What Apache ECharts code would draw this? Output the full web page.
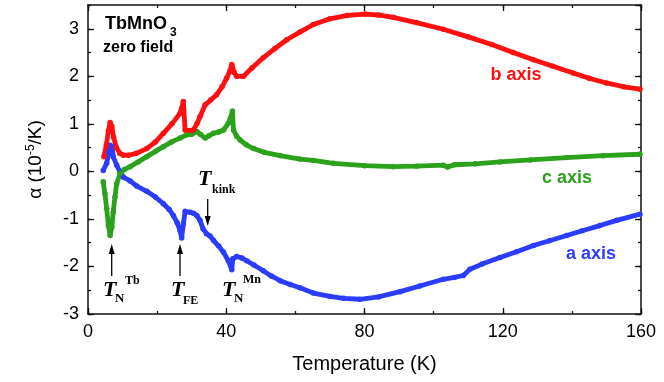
<!DOCTYPE html>
<html>
<head>
<meta charset="utf-8">
<script src="https://cdn.jsdelivr.net/npm/echarts@6/dist/echarts.min.js"></script>
<style>
  html, body { margin: 0; padding: 0; background: #fff; }
  #chart { width: 664px; height: 382px; }
</style>
</head>
<body>
<div id="chart"></div>
<script>
// a axis (blue)
var tempA = [4.4, 5.4, 6.0, 6.4, 7.0, 7.3, 8.3, 9.2, 10.2, 12.2, 14.1, 17, 19.5, 21.8, 23.5, 24.7, 25.8, 26.6, 27.1,
  27.6, 28.1, 29.5, 30.5, 31.5, 32.4, 33.3, 34.3, 35.3, 36.3, 37.8, 39.2, 40.6, 41.6, 41.9, 43, 44.5, 45.9, 48,
  50.7, 53, 55.6, 58.5, 61.3, 65.2, 70, 74, 78.7, 84, 90.3, 96, 102.8, 106, 108.6, 110.5, 114, 119.2, 124, 128.9,
  133.5, 138.5, 143, 148.1, 153, 159.7];
var alphaA = [0.02, 0.17, 0.40, 0.55, 0.52, 0.31, 0.13, 0.00, -0.12, -0.20, -0.31, -0.42, -0.54, -0.68, -0.80, -0.93, -1.08, -1.24, -1.40,
  -1.10, -0.84, -0.86, -0.88, -0.93, -1.03, -1.21, -1.31, -1.36, -1.45, -1.57, -1.70, -1.88, -2.07, -1.84, -1.79, -1.82, -1.88, -1.97,
  -2.09, -2.20, -2.30, -2.38, -2.45, -2.56, -2.63, -2.67, -2.69, -2.64, -2.53, -2.41, -2.27, -2.23, -2.19, -2.06, -1.95, -1.81, -1.69, -1.56,
  -1.46, -1.35, -1.25, -1.14, -1.03, -0.90];

// b axis (red)
var tempB = [4.6, 5.3, 5.9, 6.4, 6.9, 7.4, 8.2, 9.2, 10.2, 11.7, 14, 17, 19.5, 21.8, 24.3, 26.6, 27.6, 28.1, 29.5, 30.5,
  31.5, 32.4, 33.9, 35.5, 37.2, 38.8, 40.1, 41.0, 41.6, 42.3, 43, 45, 47.5, 50.7, 54, 57.5, 61.3, 65.2, 70, 75, 80.2,
  84, 88.3, 95, 102.8, 110, 116.8, 123, 128.9, 134.5, 140.4, 145, 150, 155, 159.7];
var alphaB = [0.31, 0.55, 0.85, 1.03, 0.95, 0.72, 0.50, 0.38, 0.34, 0.34, 0.38, 0.48, 0.62, 0.80, 1.00, 1.22, 1.47, 0.87, 0.86, 0.87,
  1.00, 1.15, 1.40, 1.50, 1.61, 1.78, 1.96, 2.10, 2.25, 2.08, 2.00, 2.00, 2.18, 2.39, 2.58, 2.77, 2.93, 3.09, 3.21, 3.28, 3.31,
  3.29, 3.24, 3.13, 2.99, 2.83, 2.67, 2.50, 2.35, 2.21, 2.07, 1.96, 1.86, 1.78, 1.73];

// c axis (green)
var tempC = [4.4, 4.9, 5.4, 5.9, 6.4, 6.9, 7.3, 7.8, 8.3, 9.3, 10.5, 12.2, 14.5, 17, 19.5, 21.8, 24.2, 26.6, 28.6, 30,
  31.5, 32.5, 33.9, 35, 36.3, 37.8, 39.2, 40.6, 41.2, 41.8, 42.1, 43, 44, 45.8, 47.9, 51, 55.6, 61.3, 65.2, 71, 80,
  88.3, 95, 102.8, 104, 106, 112, 119.2, 128, 138.5, 149, 159.7];
var alphaC = [-0.22, -0.47, -0.78, -1.14, -1.35, -1.17, -0.86, -0.54, -0.26, -0.04, 0.04, 0.10, 0.20, 0.31, 0.42, 0.52, 0.62, 0.70, 0.77, 0.78,
  0.84, 0.78, 0.70, 0.75, 0.80, 0.83, 0.87, 1.01, 1.12, 1.27, 0.87, 0.74, 0.66, 0.56, 0.48, 0.40, 0.33, 0.26, 0.23, 0.17, 0.12,
  0.10, 0.11, 0.13, 0.09, 0.14, 0.16, 0.20, 0.24, 0.29, 0.33, 0.36];

var xTicks = [0, 160, 40];
var yTicks = [-3, 3.5, 1];

var sans = 'Liberation Sans, Arial, sans-serif';
var serif = 'Liberation Serif, Times New Roman, serif';
var RED = '#ff0f0f', GREEN = '#2ca21c', BLUE = '#2b3cff';

function pairs(xs, ys) {
  return xs.map(function (x, i) { return [x, ys[i]]; });
}

function makeAxis(dim, pos, range, major, labels) {
  var ax = {
    type: 'value',
    position: pos,
    min: range[0],
    max: range[1],
    interval: major ? range[2] : range[2] / 2,
    axisLine: { show: major, onZero: false, lineStyle: { color: '#111', width: 1.5 } },
    axisTick: { show: true, inside: true, length: major ? 6 : 3, lineStyle: { color: '#111', width: 1.3 } },
    axisLabel: { show: labels, color: '#000', fontSize: 18, fontFamily: sans, margin: 9, showMaxLabel: dim === 'x' },
    splitLine: { show: false }
  };
  return ax;
}

var chart = echarts.init(document.getElementById('chart'));

var xAxes = [
  makeAxis('x', 'bottom', xTicks, true, true),
  makeAxis('x', 'bottom', xTicks, false, false),
  makeAxis('x', 'top', xTicks, true, false),
  makeAxis('x', 'top', xTicks, false, false)
];
xAxes[0].name = 'Temperature (K)';
xAxes[0].nameLocation = 'middle';
xAxes[0].nameGap = 40;
xAxes[0].nameTextStyle = { fontSize: 20, fontFamily: sans, color: '#000' };

var yAxes = [
  makeAxis('y', 'left', yTicks, true, true),
  makeAxis('y', 'left', yTicks, false, false),
  makeAxis('y', 'right', yTicks, true, false),
  makeAxis('y', 'right', yTicks, false, false)
];
yAxes[0].name = '{a|α (10}{s|-5}{a|/K)}';
yAxes[0].nameLocation = 'middle';
yAxes[0].nameGap = 41;
yAxes[0].nameTextStyle = {
  color: '#000',
  rich: {
    a: { fontSize: 19, fontFamily: sans, color: '#000', lineHeight: 22 },
    s: { fontSize: 12, fontFamily: sans, color: '#000', verticalAlign: 'top', lineHeight: 22 }
  }
};

function curve(name, xs, ys, color) {
  return {
    name: name,
    type: 'line',
    data: pairs(xs, ys),
    symbol: 'circle',
    symbolSize: 5.5,
    showSymbol: true,
    itemStyle: { color: color },
    lineStyle: { color: color, width: 4.8 },
    animation: false
  };
}

function txt(x, y, text, size, color, opts) {
  opts = opts || {};
  return {
    type: 'text',
    x: x,
    y: y,
    style: {
      text: text,
      fontSize: size,
      fontFamily: opts.family || sans,
      fontWeight: 'bold',
      fontStyle: opts.italic ? 'italic' : 'normal',
      fill: color,
      textAlign: opts.align || 'left',
      textVerticalAlign: 'middle',
      align: opts.align || 'left',
      verticalAlign: 'middle'
    }
  };
}

function arrow(x, yTail, yTip) {
  var dir = yTip < yTail ? 1 : -1;
  var base = yTip + dir * 10;
  return [
    { type: 'line', shape: { x1: x, y1: yTail, x2: x, y2: base }, style: { stroke: '#000', lineWidth: 1.3 } },
    { type: 'polygon', shape: { points: [[x, yTip], [x - 3, base], [x + 3, base]] }, style: { fill: '#000' } }
  ];
}

var graphics = [
  txt(105, 24, 'TbMnO', 18, '#000'),
  txt(170, 33, '3', 12, '#000'),
  txt(103, 48, 'zero field', 16, '#000'),
  txt(516, 75, 'b axis', 18, RED, { align: 'center' }),
  txt(567, 178, 'c axis', 18, GREEN, { align: 'center' }),
  txt(591, 254, 'a axis', 18, BLUE, { align: 'center' }),
  // T_N^Tb
  txt(103, 290, 'T', 22, '#000', { family: serif, italic: true }),
  txt(115, 299, 'N', 13, '#000', { family: serif }),
  txt(125, 281, 'Tb', 12, '#000', { family: serif }),
  // T_FE
  txt(171, 290, 'T', 22, '#000', { family: serif, italic: true }),
  txt(183, 301, 'FE', 12, '#000', { family: serif }),
  // T_N^Mn
  txt(222, 290, 'T', 22, '#000', { family: serif, italic: true }),
  txt(234, 299, 'N', 13, '#000', { family: serif }),
  txt(243, 280, 'Mn', 12, '#000', { family: serif }),
  // T_kink
  txt(198, 179, 'T', 22, '#000', { family: serif, italic: true }),
  txt(212, 190, 'kink', 12, '#000', { family: serif })
].concat(arrow(111.7, 276, 244), arrow(180, 276, 244), arrow(207.7, 199, 226));

chart.setOption({
  animation: false,
  grid: { left: 88, right: 23, top: 5, bottom: 68, containLabel: false, outerBoundsMode: 'none' },
  xAxis: xAxes,
  yAxis: yAxes,
  series: [
    curve('a axis', tempA, alphaA, BLUE),
    curve('c axis', tempC, alphaC, GREEN),
    curve('b axis', tempB, alphaB, RED)
  ],
  graphic: graphics
});
</script>
</body>
</html>
